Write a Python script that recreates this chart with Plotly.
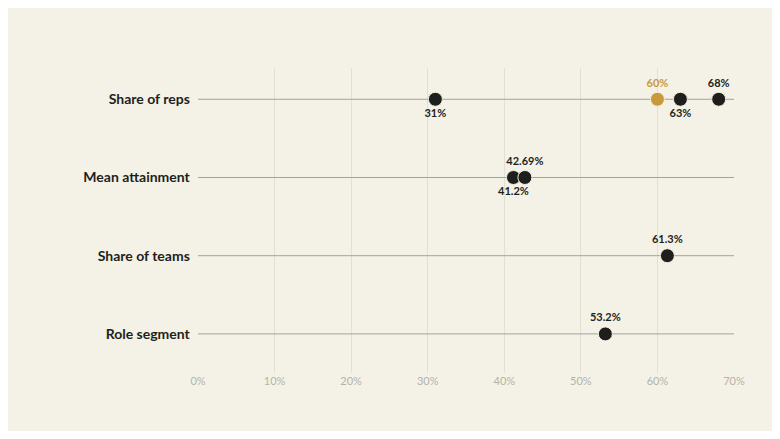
import plotly.graph_objects as go

categories = ["Share of reps", "Mean attainment", "Share of teams", "Role segment"]
dark_cats = ["Share of reps", "Share of reps", "Share of reps", "Mean attainment", "Mean attainment", "Share of teams", "Role segment"]
dark_vals = [31, 63, 68, 41.2, 42.69, 61.3, 53.2]
dark_labels = ["31%", "63%", "68%", "41.2%", "42.69%", "61.3%", "53.2%"]
dark_pos = ["bottom center", "bottom center", "top center", "bottom center", "top center", "top center", "top center"]
gold_cats = ["Share of reps"]
gold_vals = [60]
gold_labels = ["60%"]
x_ticks = [0, 10, 20, 30, 40, 50, 60, 70]

bg = "#f4f1e6"
fig = go.Figure()

for c in categories:
    fig.add_trace(go.Scatter(x=[0, 70], y=[c, c], mode="lines",
                             line=dict(color="#a3a39c", width=1),
                             hoverinfo="skip", showlegend=False))

fig.add_trace(go.Scatter(
    x=gold_vals, y=gold_cats, mode="markers+text",
    text=["<b>%s</b>" % t for t in gold_labels],
    textposition="top center", textfont=dict(color="#c99a3c", size=11, family="Lato"),
    marker=dict(color="#c99a3c", size=14, line=dict(color=bg, width=1)),
    showlegend=False))
fig.add_trace(go.Scatter(
    x=dark_vals, y=dark_cats, mode="markers+text",
    text=["<b>%s</b>" % t for t in dark_labels],
    textposition=dark_pos, textfont=dict(color="#1e1f1c", size=11, family="Lato"),
    marker=dict(color="#1e1f1c", size=14, line=dict(color=bg, width=1)),
    showlegend=False))

fig.update_layout(
    paper_bgcolor=bg, plot_bgcolor=bg,
    margin=dict(l=190, r=38, t=60, b=58),
    font=dict(family="Lato", color="#1e1f1c"),
    xaxis=dict(range=[0, 70], tickvals=x_ticks, ticktext=["%d%%" % v for v in x_ticks],
               showgrid=True, gridcolor="#e2dfd3", zeroline=False,
               tickfont=dict(size=11, color="#b5b3a8"), fixedrange=True),
    yaxis=dict(categoryorder="array", categoryarray=categories[::-1],
               tickvals=categories, ticktext=["<b>%s</b>  " % c for c in categories],
               range=[-0.5, 3.4], showgrid=False, zeroline=False,
               tickfont=dict(size=14, color="#1e1f1c", family="Lato")),
)
fig.write_html("out.html")
